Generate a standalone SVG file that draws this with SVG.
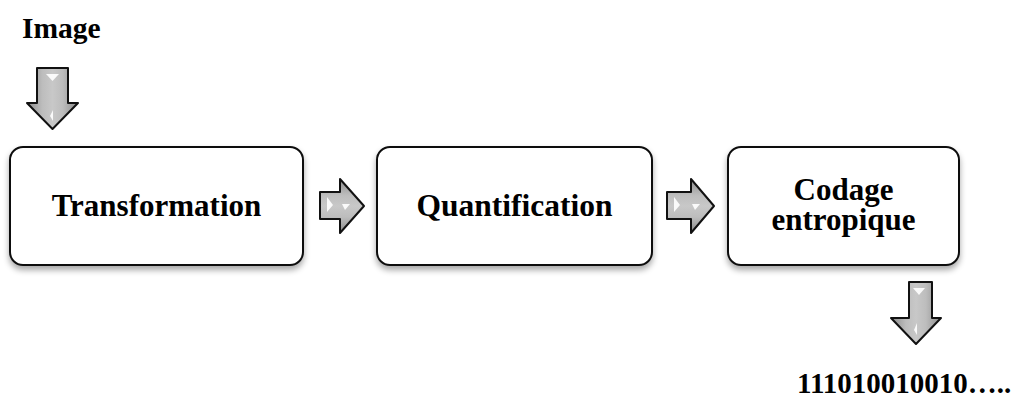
<svg xmlns="http://www.w3.org/2000/svg" width="1019" height="397" viewBox="0 0 1019 397">
<defs>
<filter id="sh" x="-10%" y="-10%" width="120%" height="130%">
<feGaussianBlur in="SourceAlpha" stdDeviation="3"/>
<feOffset dx="0" dy="4" result="b"/>
<feComponentTransfer><feFuncA type="linear" slope="0.35"/></feComponentTransfer>
<feMerge><feMergeNode/><feMergeNode in="SourceGraphic"/></feMerge>
</filter>
<linearGradient id="gv" x1="0" y1="0" x2="1" y2="0">
<stop offset="0" stop-color="#8a8a8a"/>
<stop offset="0.3" stop-color="#bdbdbd"/>
<stop offset="0.5" stop-color="#c8c8c8"/>
<stop offset="0.7" stop-color="#bdbdbd"/>
<stop offset="1" stop-color="#8a8a8a"/>
</linearGradient>
<linearGradient id="gh" x1="0" y1="0" x2="0" y2="1">
<stop offset="0" stop-color="#8a8a8a"/>
<stop offset="0.3" stop-color="#bdbdbd"/>
<stop offset="0.5" stop-color="#c8c8c8"/>
<stop offset="0.7" stop-color="#bdbdbd"/>
<stop offset="1" stop-color="#8a8a8a"/>
</linearGradient>
</defs>
<style>
.box{fill:#fff;stroke:#111;stroke-width:2}
.t{font-family:"Liberation Serif","Times New Roman",serif;font-weight:bold;fill:#000}
.arr{stroke:#111;stroke-width:2;stroke-linejoin:round}
.hl{fill:#fff;opacity:0.9}
</style>
<g id="label-image"><text class="t" x="22" y="38" font-size="29.5">Image</text></g>
<g id="transformation">
<rect class="box" x="10" y="147" width="293" height="118" rx="13" filter="url(#sh)"/>
<text class="t" x="156.5" y="216" font-size="31" text-anchor="middle">Transformation</text>
</g>
<g id="quantification">
<rect class="box" x="377" y="147" width="275" height="118" rx="13" filter="url(#sh)"/>
<text class="t" x="514.5" y="216" font-size="31.5" text-anchor="middle">Quantification</text>
</g>
<g id="codage">
<rect class="box" x="728" y="147" width="231" height="118" rx="13" filter="url(#sh)"/>
<text class="t" x="843.5" y="200" font-size="31" text-anchor="middle">Codage</text>
<text class="t" x="843.5" y="230" font-size="31" text-anchor="middle">entropique</text>
</g>
<g id="label-bits"><text class="t" x="797" y="393" font-size="29">111010010010…..</text></g>
<g id="connectors">
<g id="arrow-in">
<path class="arr" fill="url(#gv)" d="M37,68 H68 V103 H78 L52.5,129 L27,103 H37 Z"/>
<path class="hl" d="M46,74 H59 L52.5,81 Z"/>
<path class="hl" d="M50,116 L53,110 L53,121 Z" opacity="0.7"/>
</g>
<g id="arrow-1">
<path class="arr" fill="url(#gh)" d="M320,192 H340 V179 L364,206 L340,233 V219 H320 Z"/>
<path class="hl" d="M327,197 L333,205 L327,212 Z"/>
<path class="hl" d="M342,204 H350 L345,210 Z" opacity="0.7"/>
</g>
<g id="arrow-2">
<path class="arr" fill="url(#gh)" d="M667,192 H691 V179 L714,206 L691,233 V219 H667 Z"/>
<path class="hl" d="M674,197 L680,205 L674,212 Z"/>
<path class="hl" d="M692,204 H700 L695,210 Z" opacity="0.7"/>
</g>
<g id="arrow-out">
<path class="arr" fill="url(#gv)" d="M909,282 H932 V318 H941 L916,344 L891,318 H909 Z"/>
<path class="hl" d="M913,288 H925 L919,295 Z"/>
<path class="hl" d="M914,330 L917,323 L917,335 Z" opacity="0.7"/>
</g>
</g>
</svg>
